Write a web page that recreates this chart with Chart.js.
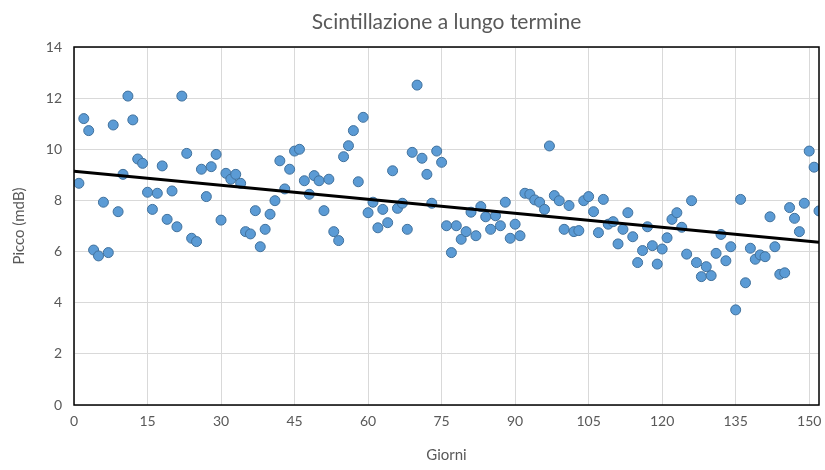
<!DOCTYPE html>
<html>
<head>
<meta charset="utf-8">
<script src="https://cdn.jsdelivr.net/npm/chart.js@4.4.0/dist/chart.umd.min.js"></script>
<style>
  html, body { margin: 0; padding: 0; background: #fff; }
  #wrap { width: 825px; height: 470px; }
</style>
</head>
<body>
<div id="wrap"><canvas id="scintChart"></canvas></div>
<script>
// Giorni di misura
const giorni = [
    1, 2, 3, 4, 5, 6, 7, 8, 9, 10, 11, 12, 13, 14, 15, 16, 17, 18, 19, 20,
    21, 22, 23, 24, 25, 26, 27, 28, 29, 30, 31, 32, 33, 34, 35, 36, 37, 38, 39, 40,
    41, 42, 43, 44, 45, 46, 47, 48, 49, 50, 51, 52, 53, 54, 55, 56, 57, 58, 59, 60,
    61, 62, 63, 64, 65, 66, 67, 68, 69, 70, 71, 72, 73, 74, 75, 76, 77, 78, 79, 80,
    81, 82, 83, 84, 85, 86, 87, 88, 89, 90, 91, 92, 93, 94, 95, 96, 97, 98, 99, 100,
    101, 102, 103, 104, 105, 106, 107, 108, 109, 110, 111, 112, 113, 114, 115, 116, 117, 118, 119, 120,
    121, 122, 123, 124, 125, 126, 127, 128, 129, 130, 131, 132, 133, 134, 135, 136, 137, 138, 139, 140,
    141, 142, 143, 144, 145, 146, 147, 148, 149, 150, 151, 152
];

// Picco di scintillazione (mdB)
const picco = [
    8.67, 11.2, 10.73, 6.06, 5.83, 7.93, 5.96, 10.95, 7.56, 9.02, 12.08, 11.15, 9.62, 9.45, 8.32, 7.65, 8.28, 9.35, 7.26, 8.37,
    6.97, 12.08, 9.84, 6.52, 6.39, 9.22, 8.15, 9.32, 9.8, 7.23, 9.06, 8.83, 9.02, 8.67, 6.78, 6.69, 7.6, 6.19, 6.87, 7.46,
    7.99, 9.55, 8.45, 9.22, 9.93, 10.0, 8.77, 8.24, 8.97, 8.77, 7.6, 8.83, 6.78, 6.43, 9.71, 10.14, 10.73, 8.73, 11.25, 7.52,
    7.93, 6.93, 7.65, 7.13, 9.16, 7.69, 7.89, 6.87, 9.88, 12.51, 9.65, 9.02, 7.89, 9.93, 9.49, 7.01, 5.96, 7.01, 6.48, 6.78,
    7.54, 6.62, 7.76, 7.36, 6.87, 7.4, 7.01, 7.93, 6.52, 7.07, 6.62, 8.28, 8.24, 8.02, 7.93, 7.65, 10.13, 8.19, 7.99, 6.87,
    7.8, 6.78, 6.82, 7.99, 8.15, 7.56, 6.74, 8.04, 7.07, 7.17, 6.3, 6.87, 7.52, 6.58, 5.57, 6.04, 6.97, 6.23, 5.51, 6.1,
    6.54, 7.26, 7.52, 6.95, 5.9, 7.99, 5.57, 5.02, 5.41, 5.06, 5.93, 6.67, 5.64, 6.19, 3.72, 8.04, 4.78, 6.13, 5.7, 5.87,
    5.8, 7.36, 6.19, 5.11, 5.17, 7.72, 7.3, 6.78, 7.89, 9.93, 9.3, 7.59
];

// Tick dell'asse x
const tickGiorni = [0, 15, 30, 45, 60, 75, 90, 105, 120, 135, 150];

// Estremi dell'asse x per la linea di tendenza
const trendX = [0, 152];

const titolo = 'Scintillazione a lungo termine';

// Linea di tendenza lineare (minimi quadrati)
function regressione(xs, ys) {
    const n = xs.length;
    let sx = 0, sy = 0, sxy = 0, sxx = 0;
    for (let i = 0; i < n; i++) {
        sx += xs[i]; sy += ys[i];
        sxy += xs[i] * ys[i]; sxx += xs[i] * xs[i];
    }
    const b = (n * sxy - sx * sy) / (n * sxx - sx * sx);
    const a = (sy - b * sx) / n;
    return { a, b };
}

const fit = regressione(giorni, picco);
const puntiTrend = trendX.map(x => ({ x: x, y: fit.a + fit.b * x }));
const puntiScatter = giorni.map((g, i) => ({ x: g, y: picco[i] }));

const fontBase = 'Lato, "Open Sans", sans-serif';
const grigio = '#595959';

// Bordo nero attorno all'area del grafico + titolo centrato sull'area
const bordoArea = {
    id: 'bordoArea',
    afterDraw(chart) {
        const { ctx, chartArea: a } = chart;
        ctx.save();
        ctx.strokeStyle = '#000';
        ctx.lineWidth = 1.5;
        ctx.strokeRect(a.left, a.top, a.right - a.left, a.bottom - a.top);
        ctx.fillStyle = grigio;
        ctx.font = '21px ' + fontBase;
        ctx.textAlign = 'center';
        ctx.textBaseline = 'middle';
        ctx.fillText(titolo, (a.left + a.right) / 2, 22);
        ctx.restore();
    }
};

new Chart(document.getElementById('scintChart'), {
    type: 'scatter',
    data: {
        datasets: [
            {
                type: 'line',
                label: 'Tendenza',
                data: puntiTrend,
                borderColor: '#000',
                borderWidth: 3,
                pointRadius: 0,
                fill: false,
                order: 0
            },
            {
                label: 'Picco',
                data: puntiScatter,
                backgroundColor: '#5B9BD5',
                borderColor: '#41719C',
                borderWidth: 1,
                pointRadius: 5,
                order: 1
            }
        ]
    },
    options: {
        responsive: true,
        maintainAspectRatio: false,
        animation: false,
        layout: { padding: { top: 47, right: 5, left: 0, bottom: 0 } },
        plugins: {
            legend: { display: false },
            tooltip: { enabled: false },
            title: { display: false }
        },
        scales: {
            x: {
                type: 'linear',
                min: 0,
                max: 152,
                afterBuildTicks: axis => {
                    axis.ticks = tickGiorni.map(v => ({ value: v }));
                },
                afterFit: axis => {
                    axis.height = 65;
                    axis.paddingLeft = 0;
                    axis.paddingRight = 0;
                },
                grid: { color: '#d9d9d9', drawTicks: false },
                border: { display: false },
                ticks: { color: grigio, font: { family: fontBase, size: 14 }, padding: 8, maxRotation: 0 },
                title: {
                    display: true,
                    text: 'Giorni',
                    color: grigio,
                    font: { family: fontBase, size: 15 },
                    padding: { top: 4, bottom: 6 }
                }
            },
            y: {
                min: 0,
                max: 14,
                afterFit: axis => {
                    axis.width = 74;
                    axis.paddingTop = 0;
                    axis.paddingBottom = 0;
                },
                grid: { color: '#d9d9d9', drawTicks: false },
                border: { display: false },
                ticks: { stepSize: 2, color: grigio, font: { family: fontBase, size: 14 }, padding: 12 },
                title: {
                    display: true,
                    text: 'Picco (mdB)',
                    color: grigio,
                    font: { family: fontBase, size: 15 },
                    padding: { top: 10, bottom: 6 }
                }
            }
        }
    },
    plugins: [bordoArea]
});
</script>
</body>
</html>
